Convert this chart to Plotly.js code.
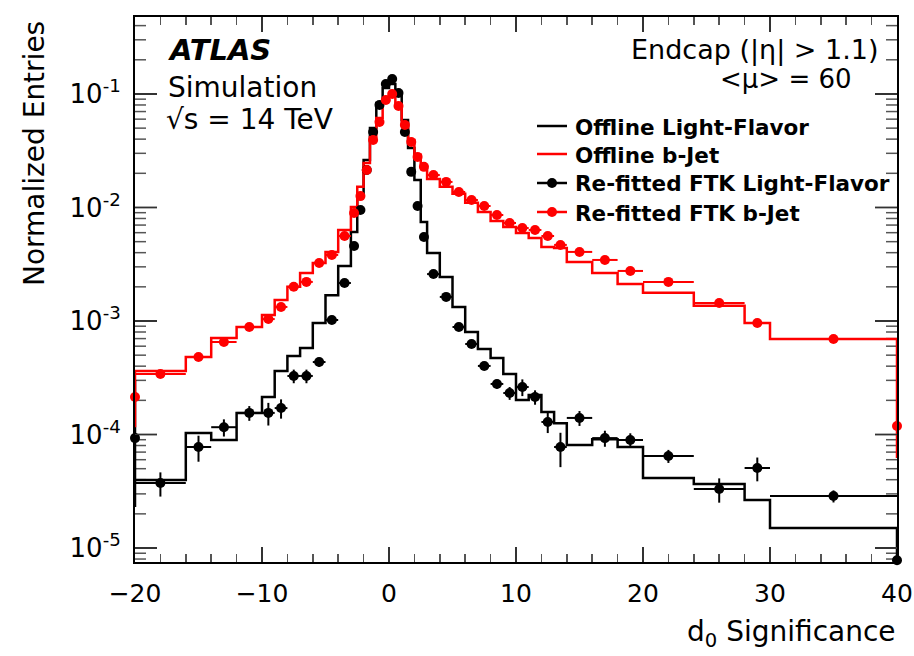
<!DOCTYPE html>
<html>
<head>
<meta charset="utf-8">
<script src="https://cdn.plot.ly/plotly-3.0.1.min.js"></script>
<style>
html,body{margin:0;padding:0;background:#fff;}
#chart{width:914px;height:656px;}
</style>
</head>
<body>
<div id="chart"></div>
<script>
// ---- data ----
const binEdges = [-20,-16,-14,-12,-10,-9,-8,-7,-6,-5,-4,-3,-2.5,-2,-1.5,-1,-0.5,0,0.5,1,1.5,2,2.5,3,4,5,6,7,8,9,10,11,12,13,14,16,18,20,24,28,30,40];

const offlineLight = [3.97e-5,1.03e-4,8.95e-5,1.55e-4,2.14e-4,3.62e-4,4.92e-4,5.78e-4,9.6e-4,1.69e-3,3.05e-3,6.08e-3,0.0129,0.0262,0.0502,0.0833,0.113,0.1225,0.098,0.059,0.0334,0.0175,0.00745,0.00397,0.00244,0.00133,0.0008,0.000566,0.000472,0.000341,0.000201,0.000223,0.000158,0.000126,8.07e-5,9.1e-5,7.76e-5,4.14e-5,3.66e-5,2.65e-5,1.5e-5];

const offlineB = [3.62e-4,4.82e-4,7.08e-4,8.85e-4,1.13e-3,1.53e-3,2.0e-3,2.65e-3,3.24e-3,4.06e-3,6.34e-3,0.0101,0.0152,0.0247,0.0418,0.0615,0.0886,0.096,0.0768,0.0555,0.0393,0.029,0.0228,0.0178,0.0152,0.0132,0.011,0.00912,0.0076,0.00673,0.00596,0.00538,0.00449,0.0044,0.00331,0.00265,0.00212,0.00177,0.00136,0.00096,0.000694];

const ftkLight = [3.74e-5,7.76e-5,1.16e-4,1.55e-4,1.55e-4,1.71e-4,3.28e-4,3.28e-4,4.35e-4,1.02e-3,2.16e-3,4.58e-3,9.5e-3,0.0214,0.0463,0.080,0.1225,0.1355,0.102,0.0463,0.0206,0.0103,0.0055,0.00259,0.00163,0.000885,0.000627,0.000402,0.000279,0.000232,0.000262,0.000214,0.000129,7.76e-5,1.4e-4,9.3e-5,8.95e-5,6.47e-5,3.31e-5,5.07e-5,2.87e-5];

const ftkLightErr = [0.9e-5,2.0e-5,2.0e-5,2.3e-5,3.5e-5,3.3e-5,4.5e-5,4.5e-5,4e-5,6e-5,1e-4,1.5e-4,2e-4,3e-4,5e-4,8e-4,1e-3,1e-3,1e-3,5e-4,3e-4,2e-4,1.2e-4,7e-5,5e-5,3.5e-5,3e-5,2.5e-5,2.5e-5,3e-5,4.4e-5,3.1e-5,2.6e-5,2.6e-5,2.1e-5,1.5e-5,1.3e-5,0.85e-5,0.8e-5,1.2e-5,0.35e-5];

const ftkB = [3.41e-4,4.82e-4,6.53e-4,8.85e-4,1.04e-3,1.33e-3,2.0e-3,2.21e-3,3.24e-3,3.82e-3,5.61e-3,8.94e-3,0.0126,0.0214,0.0393,0.0567,0.0886,0.100,0.0784,0.0533,0.0378,0.0279,0.0228,0.0193,0.0168,0.0137,0.01164,0.0103,0.00859,0.0073,0.00659,0.00634,0.00561,0.00468,0.00406,0.00345,0.00276,0.00221,0.00144,0.00096,0.000694];

// points drawn on the range edges
const edgeX = [-20, 40];
const edgeLight = [9.3e-5, 7.8e-6];
const edgeLightErrUp = [2.09e-4, 7.2e-6];
const edgeLightErrDown = [7.0e-5, 0];
const edgeB = [2.14e-4, 1.19e-4];
const edgeBErrUp = [1.48e-4, 5.75e-4];
const edgeBErrDown = [0.98e-4, 5.7e-5];

const yTickVals = [1e-5, 1e-4, 1e-3, 1e-2, 1e-1];
const yTickText = ['10<sup>-5</sup>','10<sup>-4</sup>','10<sup>-3</sup>','10<sup>-2</sup>','10<sup>-1</sup>'];
const legendLabels = ["Offline Light-Flavor","Offline b-Jet","Re-fitted FTK Light-Flavor","Re-fitted FTK b-Jet"];

// ---- derived ----
const centers = binEdges.slice(0,-1).map((e,i)=>(e+binEdges[i+1])/2);
const halfW = binEdges.slice(0,-1).map((e,i)=>(binEdges[i+1]-e)/2);
const histY = a => a.concat([a[a.length-1]]);

const RED = '#ff0000', BLK = '#000000';
const F = 'DejaVu Sans, Liberation Sans, Arial, sans-serif';

// plot area in pixels: x 135..897, y 17..562
const L=135, R=897, T=17, B=562;
const xRange = [-20, 40];
const yRange = [-5.123, -0.322];
const px = v => (v-L)/(R-L);
const py = v => (B-v)/(B-T);

// y-frame tick marks (decoration), lengths given in pixels and converted to x units
const unitsPerPx = (xRange[1]-xRange[0])/(R-L);
function frameTicks(vals, lenPx){
  const xs=[], ys=[], d=lenPx*unitsPerPx;
  vals.forEach(v=>{
    xs.push(xRange[0], xRange[0]+d, null, xRange[1]-d, xRange[1], null);
    ys.push(v, v, null, v, v, null);
  });
  return {xs, ys};
}
const minorVals = [];
[-6,-5,-4,-3,-2,-1].forEach(n=>{ for(let k=2;k<=9;k++){ const v=k*Math.pow(10,n); const lv=Math.log10(v); if(lv>yRange[0] && lv<yRange[1]) minorVals.push(v);} });
const mt = frameTicks(minorVals, 11);
const Mt = frameTicks(yTickVals, 22);

const traces = [
  {x: mt.xs, y: mt.ys, mode:'lines', line:{color:'#555', width:1.5}, showlegend:false, hoverinfo:'skip', connectgaps:false},
  {x: Mt.xs, y: Mt.ys, mode:'lines', line:{color:'#333', width:1.8}, showlegend:false, hoverinfo:'skip', connectgaps:false},
  {x: binEdges, y: histY(offlineLight), mode:'lines', line:{shape:'hv', color:BLK, width:2.5}, showlegend:false, hoverinfo:'skip'},
  {x: binEdges, y: histY(offlineB), mode:'lines', line:{shape:'hv', color:RED, width:2.5}, showlegend:false, hoverinfo:'skip'},
  {x: centers, y: ftkLight, mode:'markers', marker:{color:BLK, size:10},
   error_x:{type:'data', array:halfW, color:BLK, thickness:2, width:0},
   error_y:{type:'data', array:ftkLightErr, color:BLK, thickness:2, width:0}, showlegend:false},
  {x: centers, y: ftkB, mode:'markers', marker:{color:RED, size:10},
   error_x:{type:'data', array:halfW, color:RED, thickness:2, width:0}, showlegend:false},
  {x: edgeX, y: edgeLight, mode:'markers', marker:{color:BLK, size:10}, cliponaxis:false,
   error_y:{type:'data', symmetric:false, array:edgeLightErrUp, arrayminus:edgeLightErrDown, color:BLK, thickness:2.5, width:0}, showlegend:false},
  {x: edgeX, y: edgeB, mode:'markers', marker:{color:RED, size:10}, cliponaxis:false,
   error_y:{type:'data', symmetric:false, array:edgeBErrUp, arrayminus:edgeBErrDown, color:RED, thickness:2.5, width:0}, showlegend:false}
];

const annotations = [
  {text:'<b><i>ATLAS</i></b>', x:px(166), y:py(50), xanchor:'left', yanchor:'middle', font:{family:F, size:29, color:'#000'}},
  {text:'Simulation', x:px(166), y:py(87), xanchor:'left', yanchor:'middle', font:{family:F, size:28, color:'#000'}},
  {text:'√s = 14 TeV', x:px(164), y:py(120), xanchor:'left', yanchor:'middle', font:{family:F, size:28, color:'#000'}},
  {text:'Endcap (|η| > 1.1)', x:px(881), y:py(50), xanchor:'right', yanchor:'middle', font:{family:F, size:27, color:'#000'}},
  {text:'&lt;μ&gt; = 60', x:px(854), y:py(79), xanchor:'right', yanchor:'middle', font:{family:F, size:26, color:'#000'}},
  {text:'d<sub>0</sub> Significance', x:px(898), y:py(633), xanchor:'right', yanchor:'middle', font:{family:F, size:28, color:'#000'}},
  {text:'Normalized Entries', x:px(35), y:py(154), xanchor:'center', yanchor:'middle', textangle:-90, font:{family:F, size:28, color:'#000'}}
];
const legRows = [127,155,184,213];
const legColors = [BLK, RED, BLK, RED];
const shapes = [];
legRows.forEach((ry,i)=>{
  annotations.push({text:'<b>'+legendLabels[i]+'</b>', x:px(573), y:py(ry), xanchor:'left', yanchor:'middle', font:{family:F, size:21.5, color:'#000'}});
  shapes.push({type:'line', xref:'paper', yref:'paper', x0:px(537), x1:px(567), y0:py(ry-1), y1:py(ry-1), line:{color:legColors[i], width:2.5}});
  if(i>=2){
    shapes.push({type:'circle', xref:'paper', yref:'paper', xsizemode:'pixel', ysizemode:'pixel', xanchor:px(552), yanchor:py(ry-1), x0:-5, x1:5, y0:-5, y1:5, fillcolor:legColors[i], line:{color:legColors[i], width:0}});
  }
});
annotations.forEach(a=>{a.xref='paper'; a.yref='paper'; a.showarrow=false;});

const layout = {
  width:914, height:656,
  margin:{l:L, r:914-R, t:T, b:656-B},
  paper_bgcolor:'#fff', plot_bgcolor:'#fff',
  showlegend:false,
  xaxis:{range:xRange, dtick:10, tick0:0, ticks:'inside', ticklen:15, tickwidth:1.5, tickcolor:'#333',
    minor:{dtick:2, ticks:'inside', ticklen:8, tickwidth:1.5, tickcolor:'#555'},
    showline:true, linecolor:'#000', linewidth:2, mirror:'allticks', zeroline:false, showgrid:false,
    ticklabelstandoff:8, tickfont:{family:F, size:25, color:'#000'}},
  yaxis:{type:'log', range:yRange, tickmode:'array', tickvals:yTickVals, ticktext:yTickText,
    ticks:'inside', ticklen:22, tickwidth:1.8, tickcolor:'#333',
    showline:true, linecolor:'#000', linewidth:2, mirror:'allticks', zeroline:false, showgrid:false,
    ticklabelstandoff:7, tickfont:{family:F, size:26, color:'#000'}},
  annotations:annotations,
  shapes:shapes
};
Plotly.newPlot('chart', traces, layout, {staticPlot:true});
</script>
</body>
</html>
